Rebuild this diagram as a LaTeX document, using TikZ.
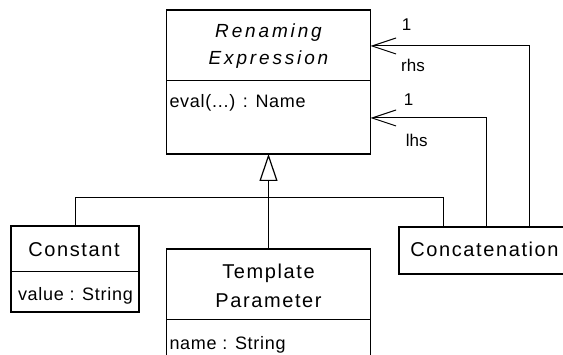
\documentclass[tikz,border=0pt]{standalone}
\usepackage{fontspec}
\setmainfont{Liberation Sans}
\newfontfamily\clsfont[LetterSpace=8]{Liberation Sans}
\newfontfamily\absfont[LetterSpace=15]{Liberation Sans}
\newfontfamily\attfont[LetterSpace=4]{Liberation Sans}
\newfontfamily\opfont[LetterSpace=4]{Liberation Sans}
\usetikzlibrary{arrows.meta,calc}
\begin{document}
\begin{tikzpicture}[x=1pt,y=-1pt,
  box/.style={draw,line width=1.8pt,rectangle,inner sep=0pt,outer sep=0pt},
  divider/.style={line width=1pt},
  conn/.style={line width=1pt},
  txt/.style={inner sep=0pt,outer sep=0pt},
  clsname/.style={txt,anchor=base,font=\clsfont\fontsize{20}{24}\selectfont},
  absname/.style={txt,anchor=base,font=\absfont\itshape\fontsize{19}{23}\selectfont},
  attr/.style={txt,anchor=base west,font=\attfont\fontsize{18}{22}\selectfont},
  oper/.style={txt,anchor=base west,font=\opfont\fontsize{18}{22}\selectfont},
  role/.style={txt,anchor=base,font=\fontsize{17}{20}\selectfont},
  gen/.style={conn,-{Triangle[open,length=27pt,width=18pt,line width=1.2pt]}},
  assoc/.style={conn,-{Straight Barb[length=24pt,width=16pt]}}]
\useasboundingbox (0,0) rectangle (563,355);
\clip (0,0) rectangle (563,355);

% Renaming Expression (abstract)
\node[box,minimum width=204pt,minimum height=144pt] (re) at (268.5,82) {};
\draw[divider] (re.west |- 0,81) -- (re.east |- 0,81);
\node[absname] (reA) at (268.5,37.5) {Renaming};
\node[absname] (reB) at (268.5,64.5) {Expression};
\node[oper] (reop) at (169.5,107.5) {eval(...) : Name};

% Constant
\node[box,minimum width=128pt,minimum height=86pt] (con) at (75,269) {};
\draw[divider] (con.west |- 0,272) -- (con.east |- 0,272);
\node[clsname] (conN) at (74,257) {Constant};
\node[attr] (conA) at (18,301) {value : String};

% Template Parameter
\node[box,minimum width=204pt,minimum height=116pt] (tp) at (268.5,307) {};
\draw[divider] (tp.west |- 0,320) -- (tp.east |- 0,320);
\node[clsname] (tpA) at (268.5,279) {Template};
\node[clsname] (tpB) at (268.5,308) {Parameter};
\node[attr] (tpAt) at (169.5,350) {name : String};

% Concatenation
\node[box,line width=1.4pt,minimum width=171pt,minimum height=47pt] (cat) at (484.5,250.5) {};
\node[clsname] (catN) at (484.5,257) {Concatenation};

% Generalization
\draw[gen] (tp.north) -- (re.south);
\draw[conn] (con.north) -- ++(0,-28) -| ($(cat.north west)+(44,0)$);

% Associations
\draw[assoc] ($(cat.north west)+(130,0)$) |- ($(re.east)+(0,-36)$);
\draw[assoc] ($(cat.north west)+(87,0)$) |- ($(re.east)+(0,36)$);

% Role labels
\node[role] (m1) at (406.7,31) {1};
\node[role] (r1) at (413,72) {rhs};
\node[role] (m2) at (408.5,106) {1};
\node[role] (r2) at (416.7,146.5) {lhs};
\end{tikzpicture}
\end{document}
